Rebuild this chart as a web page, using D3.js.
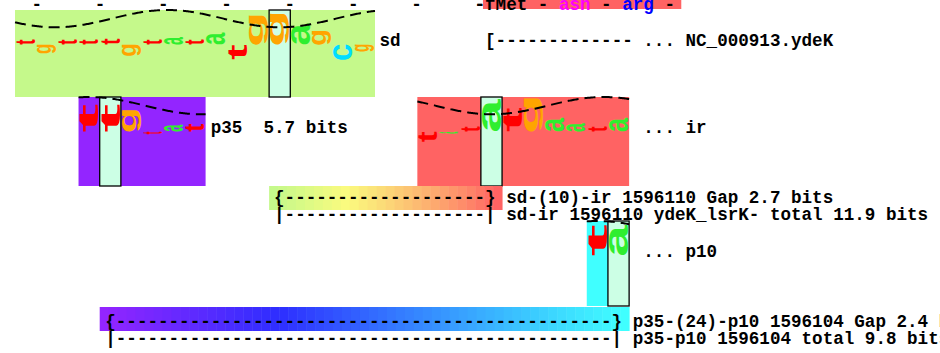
<!DOCTYPE html>
<html>
<head>
<meta charset="utf-8">
<script src="https://cdnjs.cloudflare.com/ajax/libs/d3/7.8.5/d3.min.js"></script>
<style>
  body { margin: 0; background: #fff; }
  svg { display: block; }
</style>
</head>
<body>
<div class="chart"></div>
<script>
// walker letters and their Ri (bits), one entry per base
const sdBases  = ["t","g","t","t","t","g","t","a","t","a","t","g","g","a","g","c","g"];
const sdBits   = [0.3,-0.5,0.3,0.3,0.35,-0.65,0.3,0.45,0.3,0.7,-0.85,1.7,1.8,1.25,0.8,-0.9,-0.4];
const p35Bases = ["t","t","g","t","a","t"];
const p35Bits  = [1.6,1.6,1.25,-0.15,0.4,0.45];
const irBases  = ["t","a","t","a","t","g","a","a","t","a"];
const irBits   = [-0.6,-0.1,0.3,1.9,1.4,1.95,0.8,0.5,0.3,0.8];
const p10Bases = ["t","a"];
const p10Bits  = [1.8,1.8];

// walker names, first base, zero base and colours
const walkerNames  = ["sd","p35","ir","p10"];
const walkerStart  = [0,3,19,27];
const walkerZero   = [12,4,22,28];
const walkerColors = ["#c5f98b","#9325ff","#ff6363","#40ffff"];

// text
const codonTicks  = "-     -     -     -     -     -     -     -";
const aminoAcids  = ["fMet","asn","arg"];
const aaColors    = ["#000000","#ff00ff","#0000ff"];
const sdLabel     = "sd";
const sdRightText = "[------------- ... NC_000913.ydeK";
const p35Label    = "p35  5.7 bits";
const irLabel     = "... ir";
const p10Label    = "... p10";
const gapSdIr     = ["{-------------------} sd-(10)-ir 1596110 Gap 2.7 bits",
                     "|-------------------| sd-ir 1596110 ydeK_lsrK- total 11.9 bits"];
const gapP35P10   = ["{-----------------------------------------------} p35-(24)-p10 1596104 Gap 2.4 bits",
                     "|-----------------------------------------------| p35-p10 1596104 total 9.8 bits"];

const letterColors = {a: "#2fee2f", c: "#00ddff", g: "#ffa500", t: "#ff0000"};

const width = 940, height = 353;

const svg = d3.select(".chart").append("svg")
    .attr("width", width)
    .attr("height", height)
    .style("font-family", "'Liberation Mono', monospace")
    .style("font-weight", "bold")
    .style("font-size", "17.58px");

// base position -> x, and monospace text column -> x
const baseX = d3.scaleLinear().domain([0, 17]).range([15, 375]);
const colX = d3.scaleLinear().domain([0, 1]).range([31.4, 41.95]);
const bw = baseX(1) - baseX(0);
const pxPerBit = 17.3;

// tight glyph bounds for the letters
const ctx = document.createElement("canvas").getContext("2d");
ctx.font = "bold 100px 'Liberation Sans'";
const glyph = {};
["a","c","g","t"].forEach(ch => {
    const m = ctx.measureText(ch);
    glyph[ch] = {left: -m.actualBoundingBoxLeft, right: m.actualBoundingBoxRight,
                 top: -m.actualBoundingBoxAscent, bottom: m.actualBoundingBoxDescent};
});

function gridText(g, str, col, y, color) {
    const re = /\S+/g;
    let m;
    while ((m = re.exec(str)) !== null) {
        g.append("text")
            .attr("x", colX(col + m.index))
            .attr("y", y)
            .attr("fill", color || "#000")
            .text(m[0]);
    }
}

const walkers = [
    {bases: sdBases,  bits: sdBits,  top: 10,  h: 87, peak: -5.3},
    {bases: p35Bases, bits: p35Bits, top: 97,  h: 89, peak: -1.0},
    {bases: irBases,  bits: irBits,  top: 97,  h: 89, peak: 5.3},
    {bases: p10Bases, bits: p10Bits, top: 221, h: 85, peak: -1.0}
];
walkers.forEach((w, k) => {
    w.name = walkerNames[k];
    w.start = walkerStart[k];
    w.zero = walkerZero[k];
    w.color = walkerColors[k];
});

// gap bars between two walkers, banded colour blend
function gapBar(a, b, y, h, lines, col, textY) {
    const x0 = baseX(walkers[a].zero), x1 = baseX(walkers[b].zero + 1);
    const n = Math.round((x1 - x0) / 9);
    const interp = d3.interpolateHsl(walkers[a].color, walkers[b].color);
    const band = d3.scaleLinear().domain([0, n]).range([x0, x1]);
    svg.append("g").selectAll("rect")
        .data(d3.range(n))
        .enter()
        .append("rect")
        .attr("x", d => band(d))
        .attr("y", y)
        .attr("width", d => band(d + 1) - band(d) + 0.5)
        .attr("height", h)
        .attr("fill", d => interp(n === 1 ? 0 : d / (n - 1)));
    const t = svg.append("g").attr("class", "gap-text");
    gridText(t, lines[0], col, textY[0]);
    gridText(t, lines[1], col, textY[1]);
}

walkers.forEach(w => {
    const n = w.bases.length;
    const g = svg.append("g").attr("class", "walker " + w.name);
    const zeroY = w.top + 2 * pxPerBit;
    const y = d3.scaleLinear().domain([0, 1]).range([zeroY, zeroY - pxPerBit]);

    g.append("rect")
        .attr("x", baseX(w.start))
        .attr("y", w.top)
        .attr("width", baseX(w.start + n) - baseX(w.start))
        .attr("height", w.h)
        .attr("fill", w.color);

    g.append("rect")
        .attr("x", baseX(w.zero))
        .attr("y", w.top)
        .attr("width", bw)
        .attr("height", w.h)
        .attr("fill", "#ccffe5")
        .attr("stroke", "#000")
        .attr("stroke-width", 1.3);

    g.selectAll("text.base")
        .data(w.bases.map((b, j) => ({b: b, i: w.start + j, bits: w.bits[j]})))
        .enter()
        .append("text")
        .attr("class", "base")
        .style("font-family", "'Liberation Sans', sans-serif")
        .style("font-weight", "bold")
        .style("font-size", "100px")
        .attr("fill", d => letterColors[d.b])
        .attr("transform", d => {
            const gb = glyph[d.b];
            const pad = bw * 0.05;
            const bx0 = baseX(d.i) + pad, bx1 = baseX(d.i + 1) - pad;
            const by0 = y(Math.max(d.bits, 0)), by1 = y(Math.min(d.bits, 0));
            const sx = (bx1 - bx0) / (gb.bottom - gb.top);
            const sy = (by1 - by0) / (gb.right - gb.left);
            return `translate(${bx0},${by0}) scale(${sx},${sy}) translate(${-gb.top},${gb.right}) rotate(-90)`;
        })
        .text(d => d.b);

    // helix face wave, one turn per 10.6 bases
    const peakPos = w.zero + 0.5 + w.peak;
    const line = d3.line()
        .x(u => baseX(u))
        .y(u => y(1.5 + 0.5 * Math.cos(2 * Math.PI * (u - peakPos) / 10.6)));
    g.append("path")
        .datum(d3.range(w.start, w.start + n + 0.001, 0.05))
        .attr("d", line)
        .attr("fill", "none")
        .attr("stroke", "#000")
        .attr("stroke-width", 2)
        .attr("stroke-dasharray", "11,6");
});

gapBar(0, 2, 186, 24, gapSdIr, 23, [203, 220]);
gapBar(1, 3, 307, 24, gapP35P10, 7, [327, 344]);

// top line: codon ticks and translation
svg.append("rect")
    .attr("x", colX(42.8))
    .attr("y", 0)
    .attr("width", colX(61.6) - colX(42.8))
    .attr("height", 9)
    .attr("fill", walkerColors[2]);
const frame = svg.append("g").attr("class", "frame");
gridText(frame, codonTicks, 0, 10);
gridText(frame, "-", 42, 10);
aminoAcids.forEach((aa, k) => {
    gridText(frame, aa, 43 + k * 6 + (k > 0 ? 1 : 0), 10, aaColors[k]);
    gridText(frame, "-", 48 + k * 6, 10);
});

// labels
const labels = svg.append("g").attr("class", "labels");
gridText(labels, sdLabel, 33, 46);
gridText(labels, sdRightText, 43, 46);
gridText(labels, p35Label, 17, 133);
gridText(labels, irLabel, 58, 133);
gridText(labels, p10Label, 58, 257);
</script>
</body>
</html>
